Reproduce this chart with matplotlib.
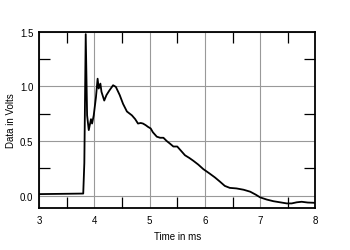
import numpy as np
import matplotlib
matplotlib.use("Agg")
from matplotlib import pyplot as plt
from matplotlib.ticker import MultipleLocator

# time (ms) and voltage
t = [3.00, 3.50, 3.80, 3.82, 3.845, 3.87, 3.90, 3.94, 3.96, 3.99, 4.03, 4.06,
     4.08, 4.11, 4.13, 4.18, 4.22, 4.27, 4.34, 4.39, 4.46, 4.52, 4.59, 4.68,
     4.74, 4.79, 4.84, 4.88, 4.93, 4.97, 5.02, 5.06, 5.13, 5.19, 5.25, 5.31, 5.36,
     5.43, 5.50, 5.57, 5.64, 5.72, 5.79, 5.88, 5.97, 6.08, 6.18, 6.27, 6.36, 6.45,
     6.57, 6.70, 6.82, 6.92, 7.00, 7.12, 7.24, 7.36, 7.48, 7.57, 7.66, 7.75,
     7.86, 7.96, 8.00]
v = [0.015, 0.018, 0.02, 0.30, 1.477, 0.735, 0.60, 0.70, 0.66, 0.735, 0.90, 1.07,
     0.98, 1.025, 0.95, 0.87, 0.92, 0.96, 1.01, 0.995, 0.92, 0.84, 0.77, 0.735,
     0.70, 0.66, 0.665, 0.66, 0.645, 0.63, 0.615, 0.58, 0.54, 0.53, 0.53, 0.50, 0.48,
     0.45, 0.45, 0.41, 0.37, 0.345, 0.32, 0.285, 0.244, 0.205, 0.168, 0.13, 0.09, 0.072,
     0.067, 0.055, 0.037, 0.01, -0.015, -0.035, -0.05, -0.06, -0.07, -0.07, -0.06, -0.055,
     -0.062, -0.064, -0.065]

plt.rcParams['font.family'] = ['Liberation Sans', 'DejaVu Sans']
plt.rcParams['font.size'] = 7

fig = plt.figure(figsize=(3.5, 2.51), dpi=100)
ax = fig.add_axes([0.1114, 0.166, 0.79, 0.704])

ax.plot(t, v, color='black', lw=1.3)

ax.set_xlim(3, 8)
ax.set_ylim(-0.115, 1.5)
ax.xaxis.set_major_locator(MultipleLocator(1))
ax.xaxis.set_minor_locator(MultipleLocator(0.5))
ax.yaxis.set_major_locator(MultipleLocator(0.5))
ax.yaxis.set_minor_locator(MultipleLocator(0.25))
ax.yaxis.set_major_formatter(matplotlib.ticker.FormatStrFormatter('%.1f'))
ax.grid(True, which='major', color='#999999', lw=0.8)
ax.tick_params(which='major', length=0, pad=5)
ax.tick_params(axis='y', which='major', pad=4)
ax.tick_params(which='minor', direction='in', length=8, width=0.9,
               top=True, right=True, bottom=True, left=True)
for s in ax.spines.values():
    s.set_linewidth(1.3)

ax.set_xlabel('Time in ms', labelpad=4)
ax.set_ylabel('Data in Volts', labelpad=3)

fig.savefig('out.png', dpi=100)
